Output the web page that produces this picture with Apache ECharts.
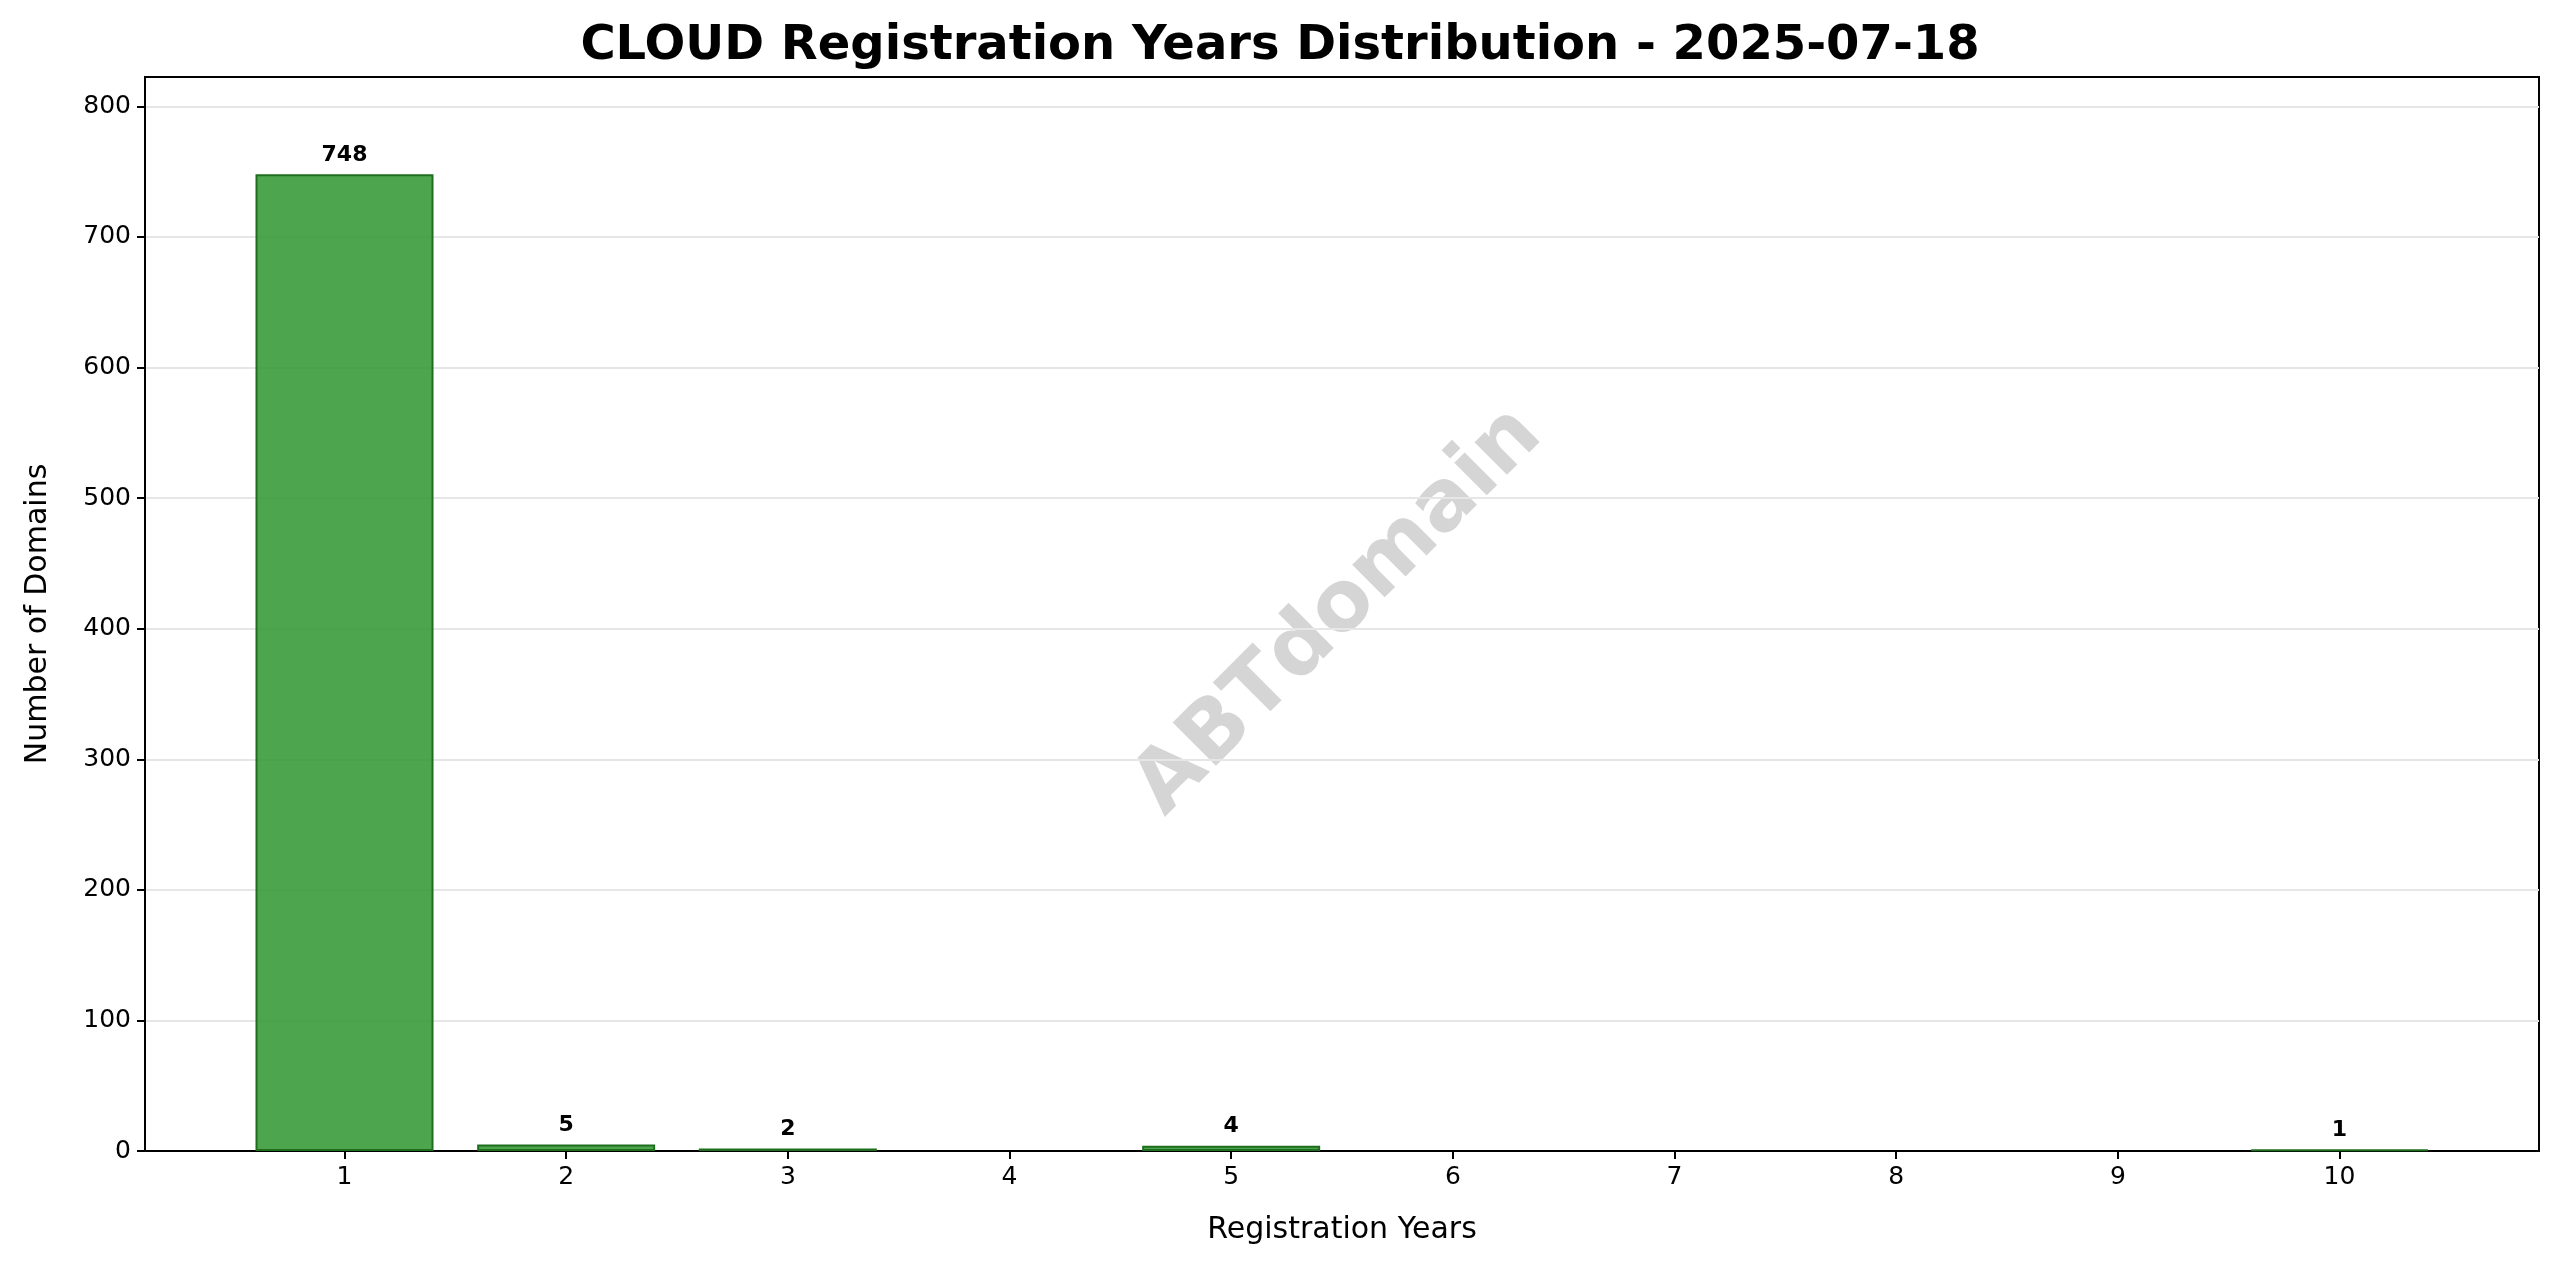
<!DOCTYPE html>
<html><head><meta charset="utf-8">
<script src="https://cdn.jsdelivr.net/npm/echarts@6/dist/echarts.min.js"></script>
<style>html,body{margin:0;padding:0;background:#fff}#c{width:2560px;height:1271px}</style>
</head><body><div id="c"></div>
<script>
const years = [1, 2, 3, 5, 10];
const counts = [748, 5, 2, 4, 1];
const xTicks = [1,2,3,4,5,6,7,8,9,10];
const yTicks = [0,100,200,300,400,500,600,700,800];
const font = 'DejaVu Sans';
const chart = echarts.init(document.getElementById('c'));
chart.setOption({
  animation:false,
  title:{text:'CLOUD Registration Years Distribution - 2025-07-18',left:'center',top:18,
    textStyle:{fontFamily:font,fontSize:48,fontWeight:'bold',color:'#000'}},
  grid:{left:145,right:21,top:77,bottom:120,show:true,borderColor:'#000',borderWidth:2,backgroundColor:'transparent'},
  graphic:[{type:'text',x:1339,y:612,rotation:Math.PI/4,
    style:{text:'ABTdomain',font:'bold 84px "DejaVu Sans"',fill:'rgba(150,150,150,0.4)',align:'center',verticalAlign:'middle'}}],
  xAxis:{type:'value',min:0.1,max:10.9,name:'Registration Years',nameLocation:'middle',nameGap:64,
    nameTextStyle:{fontFamily:font,fontSize:30,color:'#000'},
    axisLine:{lineStyle:{color:'#000',width:2}},
    axisTick:{customValues:xTicks,length:8,lineStyle:{color:'#000',width:2}},
    axisLabel:{customValues:xTicks,fontFamily:font,fontSize:25,color:'#000',margin:14},
    splitLine:{show:false}},
  yAxis:{type:'value',min:0,max:822.5,interval:100,name:'Number of Domains',nameLocation:'middle',nameGap:92,
    nameTextStyle:{fontFamily:font,fontSize:30,color:'#000'},
    axisLine:{show:true,lineStyle:{color:'#000',width:2}},
    axisTick:{show:true,customValues:yTicks,length:8,lineStyle:{color:'#000',width:2}},
    axisLabel:{customValues:yTicks,fontFamily:font,fontSize:25,color:'#000',margin:14},
    splitLine:{show:true,lineStyle:{color:'#e6e6e6',width:2}}},
  series:[{type:'bar',data:years.map((y,i)=>[y,counts[i]]),barWidth:178,
    itemStyle:{color:'rgba(46,150,46,0.85)',borderColor:'#1f6e1f',borderWidth:2},
    label:{show:true,position:'top',distance:8,fontFamily:font,fontSize:22,fontWeight:'bold',color:'#000'}}]
});
</script></body></html>
